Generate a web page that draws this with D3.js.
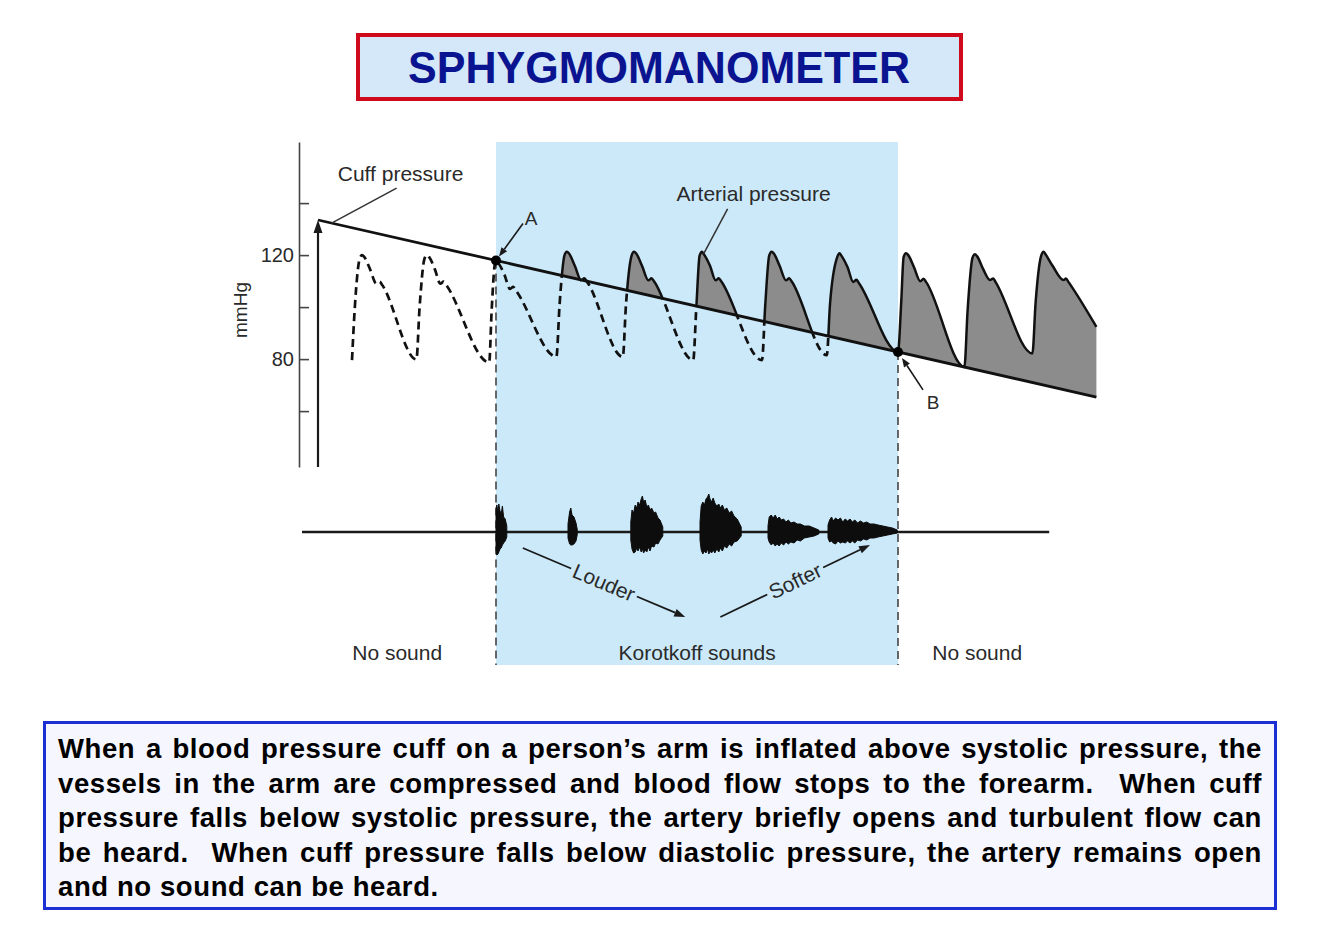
<!DOCTYPE html>
<html>
<head>
<meta charset="utf-8">
<script src="https://cdn.jsdelivr.net/npm/d3@7"></script>
<style>
    body { margin: 0; background: #fff; }
    svg { display: block; font-family: "Liberation Sans", Arial, Helvetica, sans-serif; }
</style>
</head>
<body>
<svg id="chart" width="1334" height="935"></svg>
<script>
var titleText = "SPHYGMOMANOMETER";
var captionLines = [
    "When a blood pressure cuff on a person\u2019s arm is inflated above systolic pressure, the",
    "vessels in the arm are compressed and blood flow stops to the forearm.  When cuff",
    "pressure falls below systolic pressure, the artery briefly opens and turbulent flow can",
    "be heard.  When cuff pressure falls below diastolic pressure, the artery remains open",
    "and no sound can be heard."
];

// time (s), pressure (mmHg)
var cuffPressure = [[0, 133.5], [9.73, 65.4]];
var arterialPressure = [
    [0.425, 79.6], [0.46, 99.8], [0.52, 118.5], [0.55, 120], [0.58, 119.2], [0.65, 114.6], [0.73, 109.0], [0.77, 109.8], [0.80, 108.6],
    [1.23, 79.9], [1.27, 100], [1.33, 118.5], [1.36, 120], [1.39, 119.2], [1.46, 114.6], [1.53, 109.0], [1.57, 109.8], [1.60, 108.6],
    [2.14, 78.7], [2.17, 98.3], [2.21, 116.5], [2.225, 117.9], [2.25, 117.1], [2.33, 112.5], [2.40, 107.0], [2.44, 107.8], [2.47, 106.6],
    [2.98, 80.9], [3.02, 101.1], [3.08, 119.8], [3.11, 121.3], [3.14, 120.5], [3.21, 115.9], [3.29, 110.3], [3.33, 111.1], [3.36, 109.9],
    [3.81, 80.9], [3.85, 101.1], [3.92, 119.8], [3.95, 121.3], [3.98, 120.5], [4.05, 115.9], [4.13, 110.3], [4.17, 111.1], [4.20, 109.9],
    [4.69, 79.6], [4.73, 100.5], [4.77, 119.8], [4.80, 121.3], [4.82, 120.5], [4.90, 115.9], [4.97, 110.3], [5.01, 111.1], [5.04, 109.9],
    [5.55, 79.6], [5.59, 100.5], [5.64, 119.8], [5.67, 121.3], [5.70, 120.5], [5.77, 115.9], [5.85, 110.3], [5.89, 111.1], [5.92, 109.9],
    [6.36, 81.5], [6.40, 101.1], [6.49, 119.2], [6.52, 120.7], [6.54, 119.9], [6.62, 115.3], [6.69, 109.7], [6.73, 110.5], [6.76, 109.3],
    [7.25, 82.8], [7.29, 101.7], [7.32, 119.2], [7.35, 120.7], [7.38, 119.9], [7.45, 115.3], [7.53, 109.9], [7.57, 110.9], [7.60, 109.7],
    [8.08, 77.0], [8.12, 98.7], [8.18, 118.8], [8.21, 120.3], [8.24, 119.5], [8.31, 114.9], [8.40, 110.4], [8.44, 111.0], [8.47, 109.6],
    [8.93, 82.2], [8.97, 101.7], [9.04, 119.8], [9.07, 121.3], [9.09, 120.5], [9.18, 116], [9.32, 110.4], [9.35, 111], [9.38, 109.7],
    [9.73, 92.4]
];
var yTicks = [60, 80, 100, 120, 140];
var yTickLabels = ["", "80", "", "120", ""];
var markerLabels = ["A", "B"];
var markerTimes = [2.225, 7.25];

// sound trace: time (s), upper amplitude, lower amplitude
var soundLine = [-0.2, 9.14];
var soundBursts = [
    [[2.225, 22, -18], [2.235, 27, -23], [2.25, 20, -22], [2.26, 28, -20], [2.275, 21, -17], [2.29, 18, -16], [2.305, 26, -13],
     [2.32, 15, -11], [2.34, 13, -9], [2.36, 6, -5]],
    [[3.125, 8, -6], [3.145, 20, -12], [3.16, 24, -13], [3.175, 17, -13], [3.20, 15, -12], [3.225, 9, -9], [3.24, 3, -3]],
    [[3.91, 10, -8], [3.925, 22, -17], [3.945, 19, -21], [3.965, 27, -20], [3.985, 24, -16], [4.0, 30, -19], [4.02, 27, -15],
     [4.04, 33, -20], [4.055, 36, -17], [4.07, 30, -21], [4.09, 32, -18], [4.11, 25, -20], [4.13, 27, -15], [4.15, 22, -19],
     [4.17, 24, -14], [4.20, 19, -15], [4.22, 20, -11], [4.25, 14, -12], [4.275, 12, -8], [4.31, 5, -4]],
    [[4.775, 10, -8], [4.79, 26, -18], [4.81, 30, -22], [4.83, 27, -19], [4.85, 33, -21], [4.87, 35, -17], [4.885, 38, -22],
     [4.90, 33, -19], [4.92, 30, -21], [4.94, 34, -18], [4.96, 29, -21], [4.985, 26, -17], [5.01, 28, -20], [5.03, 24, -16],
     [5.055, 27, -19], [5.08, 22, -14], [5.11, 24, -16], [5.14, 19, -12], [5.17, 21, -14], [5.20, 16, -10], [5.24, 13, -9],
     [5.29, 5, -4]],
    [[5.625, 6, -6], [5.64, 15, -10], [5.665, 17, -13], [5.69, 14, -11], [5.715, 17, -14], [5.74, 13, -12], [5.765, 15, -14],
     [5.79, 12, -11], [5.82, 13, -13], [5.85, 10, -10], [5.88, 12, -12], [5.91, 9, -10], [5.95, 10, -11], [5.99, 8, -8],
     [6.03, 8, -9], [6.08, 6, -6], [6.14, 6, -5], [6.20, 4, -4], [6.26, 2, -2]],
    [[6.375, 7, -6], [6.395, 12, -10], [6.42, 15, -9], [6.44, 11, -11], [6.47, 14, -12], [6.50, 12, -9], [6.53, 14, -11],
     [6.56, 10, -10], [6.59, 13, -11], [6.62, 11, -9], [6.65, 13, -11], [6.68, 10, -9], [6.71, 12, -11], [6.745, 9, -8],
     [6.78, 11, -9], [6.82, 9, -7], [6.86, 10, -8], [6.90, 8, -6], [6.95, 8, -6], [7.0, 7, -5], [7.06, 6, -4], [7.12, 5, -3],
     [7.18, 4, -2], [7.24, 2, -1]]
];
var trendLabels = ["Louder", "Softer"];
var trendStarts = [[2.56, -16], [5.03, -85]];
var trendEnds = [[4.59, -85], [6.9, -13]];
var phaseLabels = ["No sound", "Korotkoff sounds", "No sound"];
var phaseTimes = [0.99, 4.74, 8.24];

var svg = d3.select("#chart");
var ink = "#2a2a2a";
var bandTop = 142;
var bandBottom = 665;
var axisX = 299;

var x = d3.scaleLinear().domain([0, 9.73]).range([318, 1096.4]);
var y = d3.scaleLinear().domain([38.5, 163.5]).range([467, 142]);
var ySound = d3.scaleLinear().domain([-40, 40]).range([572, 492]);
var cuffAt = d3.scaleLinear()
    .domain(cuffPressure.map(function (d) { return d[0]; }))
    .range(cuffPressure.map(function (d) { return d[1]; }));

// title box
svg.append("rect")
    .attr("x", 358).attr("y", 35).attr("width", 603).attr("height", 64)
    .attr("fill", "#d5e8fa").attr("stroke", "#cf0a1c").attr("stroke-width", 4);
svg.append("text")
    .attr("x", 659).attr("y", 83)
    .attr("text-anchor", "middle")
    .attr("font-size", 45).attr("font-weight", "bold")
    .attr("fill", "#0a1490")
    .attr("textLength", 502).attr("lengthAdjust", "spacingAndGlyphs")
    .text(titleText);

// Korotkoff band between A and B
svg.append("rect")
    .attr("x", x(markerTimes[0])).attr("y", bandTop)
    .attr("width", x(markerTimes[1]) - x(markerTimes[0]))
    .attr("height", bandBottom - bandTop)
    .attr("fill", "#cbe9f9");

// y axis
var yAxis = d3.axisLeft(y)
    .tickValues(yTicks)
    .tickFormat(function (d, i) { return yTickLabels[i]; })
    .tickSize(-10).tickSizeOuter(0).tickPadding(5);
var axisG = svg.append("g")
    .attr("transform", "translate(" + axisX + ",0)")
    .call(yAxis);
axisG.attr("font-family", null).attr("font-size", 20);
axisG.selectAll("path, line").attr("stroke", "#444").attr("stroke-width", 1.6);
axisG.selectAll("text").attr("fill", ink);

svg.append("text")
    .attr("transform", "translate(247,310) rotate(-90)")
    .attr("text-anchor", "middle")
    .attr("font-size", 19).attr("fill", ink)
    .text("mmHg");

// clip regions above / below the cuff line
var tMin = -1, tMax = 11;
var defs = svg.append("defs");
defs.append("clipPath").attr("id", "above-cuff").append("path")
    .attr("d", "M" + x(tMin) + ",0L" + x(tMax) + ",0L" + x(tMax) + "," + y(cuffAt(tMax)) +
        "L" + x(tMin) + "," + y(cuffAt(tMin)) + "Z");
defs.append("clipPath").attr("id", "below-cuff").append("path")
    .attr("d", "M" + x(tMin) + "," + y(cuffAt(tMin)) + "L" + x(tMax) + "," + y(cuffAt(tMax)) +
        "L" + x(tMax) + ",935L" + x(tMin) + ",935Z");

// dashed verticals at A and B
svg.selectAll("line.marker-drop")
    .data(markerTimes)
    .enter().append("line")
    .classed("marker-drop", true)
    .attr("x1", function (d) { return x(d); })
    .attr("x2", function (d) { return x(d); })
    .attr("y1", function (d) { return y(cuffAt(d)); })
    .attr("y2", bandBottom)
    .attr("stroke", "#444").attr("stroke-width", 1.6)
    .attr("stroke-dasharray", "8,5");

var pressureLine = d3.line()
    .x(function (d) { return x(d[0]); })
    .y(function (d) { return y(d[1]); })
    .curve(d3.curveMonotoneX);
var pressureArea = d3.area()
    .x(function (d) { return x(d[0]); })
    .y0(function (d) { return y(cuffAt(d[0])); })
    .y1(function (d) { return y(d[1]); })
    .curve(d3.curveMonotoneX);

svg.append("path")
    .datum(arterialPressure)
    .attr("clip-path", "url(#above-cuff)")
    .attr("d", pressureArea)
    .attr("fill", "#8c8c8c");
svg.append("path")
    .datum(arterialPressure)
    .attr("clip-path", "url(#below-cuff)")
    .attr("d", pressureLine)
    .attr("fill", "none").attr("stroke", "#111").attr("stroke-width", 2.7)
    .attr("stroke-dasharray", "8,5");
svg.append("path")
    .datum(arterialPressure)
    .attr("clip-path", "url(#above-cuff)")
    .attr("d", pressureLine)
    .attr("fill", "none").attr("stroke", "#111").attr("stroke-width", 2.5)
    .attr("stroke-linejoin", "round");

// cuff pressure line
svg.append("path")
    .datum(cuffPressure)
    .attr("d", d3.line()
        .x(function (d) { return x(d[0]); })
        .y(function (d) { return y(d[1]); }))
    .attr("fill", "none").attr("stroke", "#111").attr("stroke-width", 2.8);

function arrowHead(parent, x1, y1, x2, y2, len, half) {
    var dx = x2 - x1, dy = y2 - y1;
    var d = Math.sqrt(dx * dx + dy * dy);
    var ux = dx / d, uy = dy / d;
    var bx = x2 - ux * len, by = y2 - uy * len;
    parent.append("path")
        .attr("d", "M" + x2 + "," + y2 +
            "L" + (bx - uy * half) + "," + (by + ux * half) +
            "L" + (bx + uy * half) + "," + (by - ux * half) + "Z")
        .attr("fill", "#1a1a1a");
    return [bx, by];
}

function arrow(parent, x1, y1, x2, y2, len, half, width) {
    var base = arrowHead(parent, x1, y1, x2, y2, len, half);
    parent.append("line")
        .attr("x1", x1).attr("y1", y1)
        .attr("x2", base[0]).attr("y2", base[1])
        .attr("stroke", "#1a1a1a").attr("stroke-width", width);
}

// rising arrow of the cuff inflation
arrow(svg, x(0), y(38.5), x(0), y(cuffAt(0)), 13, 4.5, 2.2);

// A and B points
svg.selectAll("circle.marker")
    .data(markerTimes)
    .enter().append("circle")
    .classed("marker", true)
    .attr("cx", function (d) { return x(d); })
    .attr("cy", function (d) { return y(cuffAt(d)); })
    .attr("r", 5)
    .attr("fill", "#000");

var markerArrowFrom = [[27, -37], [25, 38]];
var markerArrowTo = [[3, -4], [4, 6]];
var markerTextAt = [[35, -35], [35, 57]];
markerTimes.forEach(function (t, i) {
    var mx = x(t), my = y(cuffAt(t));
    arrow(svg, mx + markerArrowFrom[i][0], my + markerArrowFrom[i][1],
        mx + markerArrowTo[i][0], my + markerArrowTo[i][1], 9, 3.5, 1.6);
    svg.append("text")
        .attr("x", mx + markerTextAt[i][0]).attr("y", my + markerTextAt[i][1])
        .attr("text-anchor", "middle")
        .attr("font-size", 19).attr("fill", ink)
        .text(markerLabels[i]);
});

// curve labels with leader lines
var cuffAnchor = [x(0.17), y(cuffAt(0.17))];
svg.append("line")
    .attr("x1", cuffAnchor[0]).attr("y1", cuffAnchor[1])
    .attr("x2", cuffAnchor[0] + 65).attr("y2", cuffAnchor[1] - 35)
    .attr("stroke", "#333").attr("stroke-width", 1.5);
svg.append("text")
    .attr("x", cuffAnchor[0] + 69).attr("y", cuffAnchor[1] - 42)
    .attr("text-anchor", "middle")
    .attr("font-size", 21).attr("fill", ink)
    .text("Cuff pressure");

var artAnchor = [x(4.82), y(120.5)];
svg.append("line")
    .attr("x1", artAnchor[0]).attr("y1", artAnchor[1])
    .attr("x2", artAnchor[0] + 24).attr("y2", artAnchor[1] - 45)
    .attr("stroke", "#333").attr("stroke-width", 1.5);
svg.append("text")
    .attr("x", artAnchor[0] + 50).attr("y", artAnchor[1] - 53)
    .attr("text-anchor", "middle")
    .attr("font-size", 21).attr("fill", ink)
    .text("Arterial pressure");

// sound trace
svg.append("line")
    .attr("x1", x(soundLine[0])).attr("x2", x(soundLine[1]))
    .attr("y1", ySound(0)).attr("y2", ySound(0))
    .attr("stroke", "#1a1a1a").attr("stroke-width", 2.4);

var burstArea = d3.area()
    .x(function (d) { return x(d[0]); })
    .y0(function (d) { return ySound(d[2]); })
    .y1(function (d) { return ySound(d[1]); });
svg.selectAll("path.burst")
    .data(soundBursts)
    .enter().append("path")
    .classed("burst", true)
    .attr("d", burstArea)
    .attr("fill", "#0d0d0d")
    .attr("stroke", "#0d0d0d").attr("stroke-width", 1)
    .attr("stroke-linejoin", "miter");

// Louder / Softer arrows with text set into the line
trendLabels.forEach(function (label, i) {
    var x1 = x(trendStarts[i][0]), y1 = ySound(trendStarts[i][1]);
    var x2 = x(trendEnds[i][0]), y2 = ySound(trendEnds[i][1]);
    var dx = x2 - x1, dy = y2 - y1;
    var len = Math.sqrt(dx * dx + dy * dy);
    var ux = dx / len, uy = dy / len;
    var cx = (x1 + x2) / 2, cy = (y1 + y2) / 2;
    var angle = Math.atan2(dy, dx) * 180 / Math.PI;

    var text = svg.append("text")
        .attr("transform", "translate(" + cx + "," + cy + ") rotate(" + angle + ")")
        .attr("text-anchor", "middle")
        .attr("dy", "0.35em")
        .attr("font-size", 21).attr("fill", ink)
        .text(label);
    var gap = text.node().getComputedTextLength() / 2 + 3;

    svg.append("line")
        .attr("x1", x1).attr("y1", y1)
        .attr("x2", cx - ux * gap).attr("y2", cy - uy * gap)
        .attr("stroke", "#1a1a1a").attr("stroke-width", 1.8);
    arrow(svg, cx + ux * gap, cy + uy * gap, x2, y2, 11, 4, 1.8);
});

svg.selectAll("text.phase")
    .data(phaseLabels)
    .enter().append("text")
    .classed("phase", true)
    .attr("x", function (d, i) { return x(phaseTimes[i]); })
    .attr("y", 660)
    .attr("text-anchor", "middle")
    .attr("font-size", 21).attr("fill", ink)
    .text(function (d) { return d; });

// caption box with justified text
svg.append("rect")
    .attr("x", 44.5).attr("y", 722.5).attr("width", 1231).attr("height", 186)
    .attr("fill", "#f6f6ff").attr("stroke", "#1b2fd2").attr("stroke-width", 3);

var textLeft = 58, textRight = 1262, firstBaseline = 758, lineGap = 34.5;
var caption = svg.append("g")
    .attr("font-size", 27.5).attr("font-weight", "bold")
    .attr("letter-spacing", 0.6).attr("fill", "#000");

captionLines.forEach(function (line, li) {
    var baseline = firstBaseline + li * lineGap;
    var parts = line.split(/( +)/);
    var words = [], spaces = [];
    parts.forEach(function (p, pi) {
        if (pi % 2 === 0) { words.push(p); } else { spaces.push(p.length); }
    });
    var nodes = words.map(function (w) {
        return caption.append("text").attr("y", baseline).text(w);
    });
    var widths = nodes.map(function (n) { return n.node().getComputedTextLength(); });
    var probe = caption.append("text").text("a a");
    var probe2 = caption.append("text").text("aa");
    var spaceW = probe.node().getComputedTextLength() - probe2.node().getComputedTextLength();
    probe.remove();
    probe2.remove();

    var isLast = li === captionLines.length - 1;
    var units = d3.sum(spaces);
    var unitW = spaceW;
    if (!isLast && units > 0) {
        unitW = (textRight - textLeft - d3.sum(widths)) / units;
    }
    var cursor = textLeft;
    nodes.forEach(function (n, wi) {
        n.attr("x", cursor);
        cursor += widths[wi] + (wi < spaces.length ? spaces[wi] * unitW : 0);
    });
});
</script>
</body>
</html>
